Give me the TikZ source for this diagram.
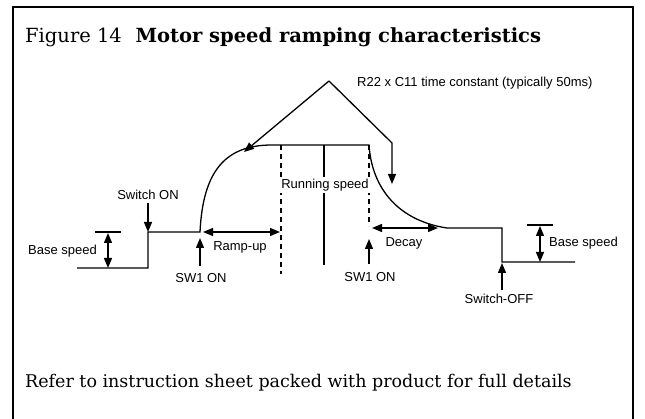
\documentclass[tikz,border=0pt]{standalone}
\usepackage{fontspec}
\setmainfont{DejaVu Serif}
\newfontfamily\labelfont{Liberation Sans}
\usetikzlibrary{arrows.meta}
\begin{document}
\begin{tikzpicture}[x=1pt,y=-1pt,
  lbl/.style={font=\labelfont\fontsize{13}{15}\selectfont, inner sep=0pt},
  trace/.style={line width=1.3pt, line join=miter},
  tip/.style={-{Triangle[length=10pt,width=8pt]}, line width=1.3pt},
  dtip/.style={{Triangle[length=10pt,width=8pt]}-{Triangle[length=10pt,width=8pt]}, line width=1.3pt},
  dashline/.style={line width=1.2pt, dash pattern=on 5pt off 4pt},
  plain/.style={line width=1.2pt}]
\useasboundingbox (0,0) rectangle (645,419);
\fill[white] (0,0) rectangle (645,419);
% frame
\coordinate (fbl) at (13,425);
\coordinate (ftl) at (13,7);
\coordinate (ftr) at (633,7);
\coordinate (fbr) at (633,425);
\draw[line width=2.6pt] (fbl) -- (ftl) -- (ftr) -- (fbr);
% title and note
\node[anchor=base west, inner sep=0pt] (title) at (25,43)
  {\fontsize{19.5}{23}\selectfont Figure 14\hspace{0.7em}\textbf{Motor speed ramping characteristics}};
\node[anchor=base west, inner sep=0pt] (note) at (25,388)
  {\fontsize{17.5}{21}\selectfont Refer to instruction sheet packed with product for full details};
% speed trace coordinates
\coordinate (b0) at (77,268);
\coordinate (b1) at (148,268);
\coordinate (s1) at (148,232);
\coordinate (r0) at (200,232);
\coordinate (r1) at (272,145);
\coordinate (d0) at (369,145);
\coordinate (d1) at (447,228);
\coordinate (o0) at (502,228);
\coordinate (o1) at (502,262);
\coordinate (o2) at (575,262);
\draw[trace] (b0) -- (b1) -- (s1) -- (r0)
  .. controls (203,170) and (226,145) .. (r1) -- (d0)
  .. controls (372,190) and (400,221) .. (d1) -- (o0) -- (o1) -- (o2);
% verticals
\coordinate (v1t) at (281,145);
\coordinate (v1b) at (281,274);
\coordinate (v2t) at (369,145);
\coordinate (v2b) at (369,226);
\coordinate (v3t) at (324,145);
\coordinate (v3b) at (324,265);
\draw[dashline] (v1t) -- (v1b);
\draw[dashline] (v2t) -- (v2b);
\draw[plain] (v3t) -- (v3b);
\node[lbl, fill=white, inner xsep=1.5pt, inner ysep=2pt] (run) at (325,185) {Running speed};
% ramp-up
\coordinate (ru0) at (203,232);
\coordinate (ru1) at (280,232);
\draw[dtip] (ru0) -- (ru1);
\node[lbl] (ramp) at (240,247) {Ramp-up};
% decay
\coordinate (de0) at (372,228);
\coordinate (de1) at (438,228);
\draw[dtip] (de0) -- (de1);
\node[lbl] (decay) at (404,243) {Decay};
% SW1 ON left
\node[lbl] (swa) at (201,278) {SW1 ON};
\coordinate (swat) at (200,266);
\coordinate (swah) at (200,238);
\draw[tip] (swat) -- (swah);
% SW1 ON right
\node[lbl] (swb) at (370,277) {SW1 ON};
\coordinate (swbt) at (369,264);
\coordinate (swbh) at (369,239);
\draw[tip] (swbt) -- (swbh);
% Switch ON
\node[lbl] (swon) at (148,195) {Switch ON};
\coordinate (swont) at (148,203);
\draw[tip] (swont) -- (s1);
% Switch-OFF
\node[lbl] (swoff) at (499,299) {Switch-OFF};
\coordinate (swofft) at (502,290);
\coordinate (swoffh) at (502,263);
\draw[tip] (swofft) -- (swoffh);
% Base speed left
\coordinate (bl0) at (95,232);
\coordinate (bl1) at (121,232);
\coordinate (bla) at (108,233);
\coordinate (blb) at (108,268);
\draw[plain] (bl0) -- (bl1);
\draw[dtip] (bla) -- (blb);
\node[lbl, anchor=east] (basel) at (97,251) {Base speed};
% Base speed right
\coordinate (br0) at (527,225);
\coordinate (br1) at (553,225);
\coordinate (bra) at (540,226);
\coordinate (brb) at (540,262);
\draw[plain] (br0) -- (br1);
\draw[dtip] (bra) -- (brb);
\node[lbl, anchor=west] (baser) at (549,243) {Base speed};
% time constant
\node[lbl, anchor=base west] (rc) at (357,87) {R22 x C11 time constant (typically 50ms)};
\coordinate (apex) at (329,81);
\coordinate (rctipl) at (244,152);
\coordinate (rcbend) at (392,143);
\coordinate (rctipr) at (392,184);
\draw[tip] (apex) -- (rctipl);
\draw[tip] (apex) -- (rcbend) -- (rctipr);
\end{tikzpicture}
\end{document}
